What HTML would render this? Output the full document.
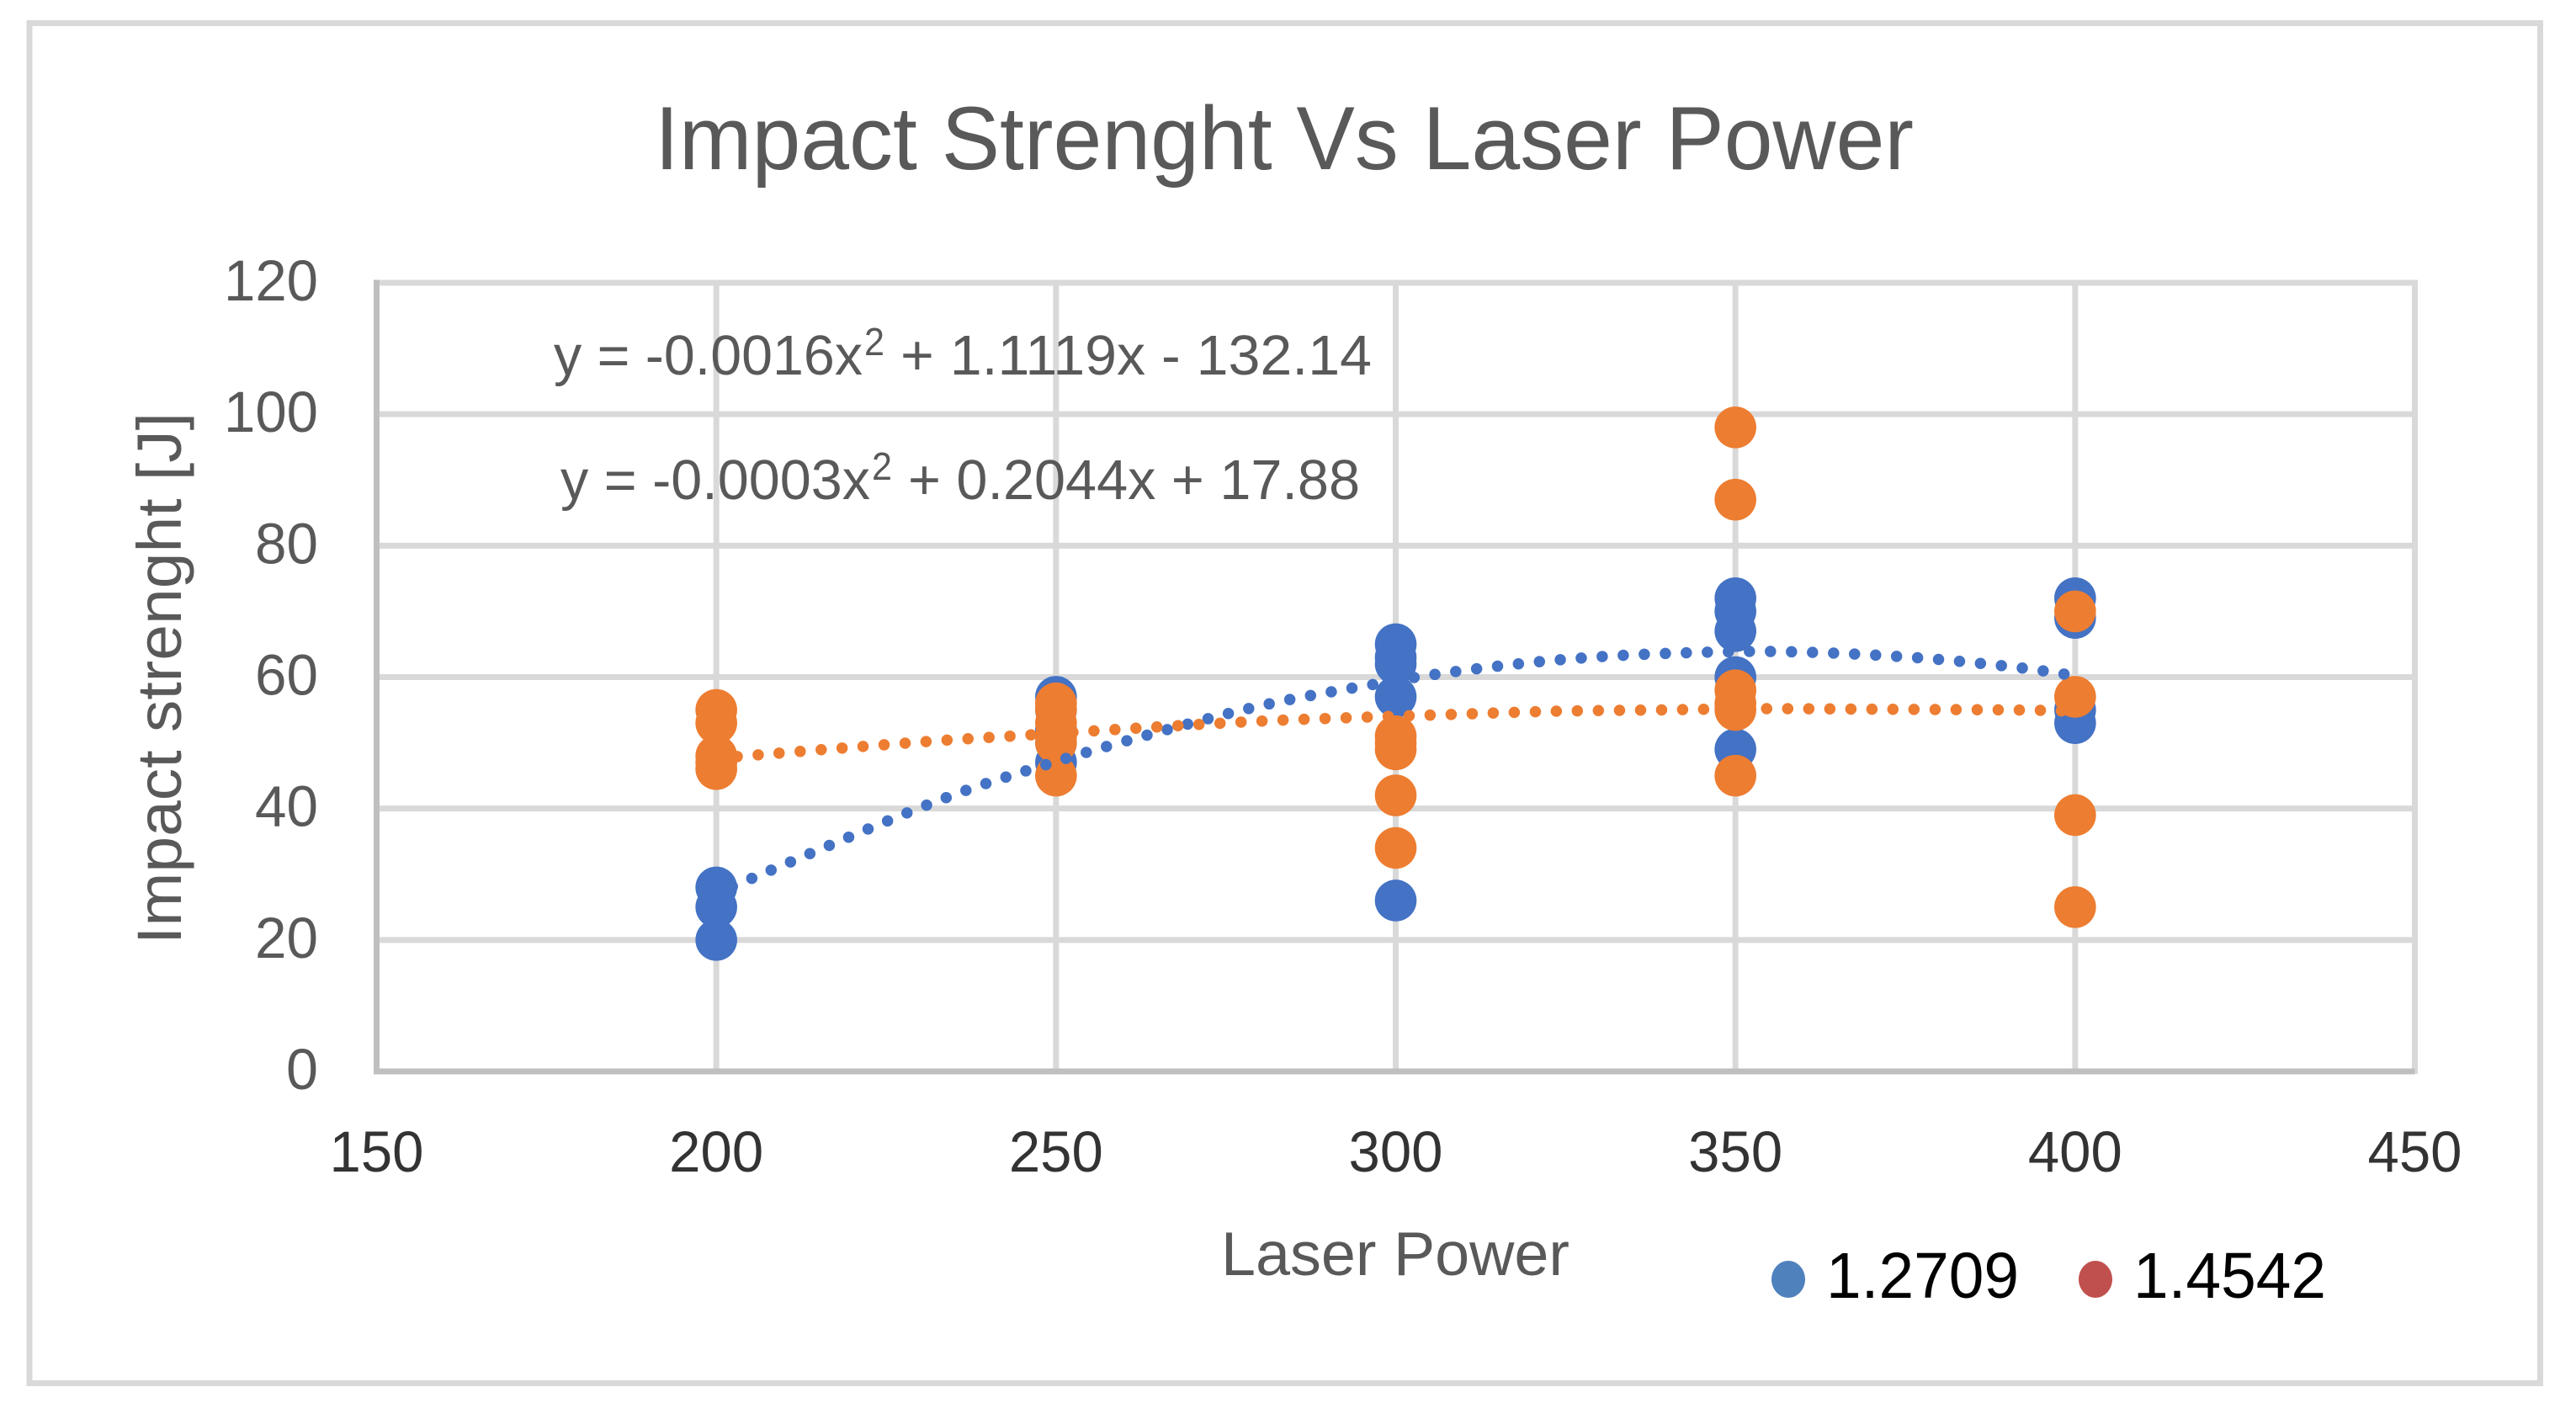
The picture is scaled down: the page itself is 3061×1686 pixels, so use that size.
<!DOCTYPE html>
<html lang="en">
<head>
<meta charset="utf-8">
<title>Impact Strenght Vs Laser Power</title>
<style>
  html, body { margin: 0; padding: 0; background: #ffffff; }
  svg { display: block; }
  text { font-family: "Liberation Sans", sans-serif; }
</style>
</head>
<body>
<svg id="chart" xmlns="http://www.w3.org/2000/svg" width="3061" height="1686" viewBox="0 0 3061 1686">
  <rect x="0" y="0" width="3061" height="1686" fill="#ffffff"/>
  <rect x="35" y="27.5" width="2983.5" height="1616" fill="none" stroke="#d9d9d9" stroke-width="7"/>
  <g id="grid"></g>
  <g id="markers"></g>
  <g id="trends"></g>
  <g id="ticks"></g>

  <text x="778" y="201" font-size="107" fill="#595959" textLength="1496" lengthAdjust="spacingAndGlyphs">Impact Strenght Vs Laser Power</text>
  <text transform="translate(215,1122) rotate(-90)" x="0" y="0" font-size="74" fill="#595959" textLength="632" lengthAdjust="spacingAndGlyphs">Impact strenght [J]</text>
  <text x="1451" y="1515" font-size="73" fill="#595959" textLength="414" lengthAdjust="spacingAndGlyphs">Laser Power</text>

  <g fill="#595959">
    <text x="658" y="445" font-size="67" textLength="367" lengthAdjust="spacingAndGlyphs">y = -0.0016x</text>
    <text x="1027" y="422" font-size="46" textLength="24" lengthAdjust="spacingAndGlyphs">2</text>
    <text x="1070" y="445" font-size="67" textLength="560" lengthAdjust="spacingAndGlyphs">+ 1.1119x - 132.14</text>
  </g>
  <g fill="#595959">
    <text x="666" y="593" font-size="67" textLength="368" lengthAdjust="spacingAndGlyphs">y = -0.0003x</text>
    <text x="1036" y="570" font-size="46" textLength="24" lengthAdjust="spacingAndGlyphs">2</text>
    <text x="1079" y="593" font-size="67" textLength="537" lengthAdjust="spacingAndGlyphs">+ 0.2044x + 17.88</text>
  </g>

  <g>
    <g>
      <ellipse cx="2125" cy="1520" rx="20" ry="22" fill="#4f81bd"/>
      <text x="2170" y="1542" font-size="77" fill="#000000" textLength="229" lengthAdjust="spacingAndGlyphs">1.2709</text>
    </g>
    <g>
      <ellipse cx="2490" cy="1520" rx="20" ry="22" fill="#c0504d"/>
      <text x="2535" y="1542" font-size="77" fill="#000000" textLength="229" lengthAdjust="spacingAndGlyphs">1.4542</text>
    </g>
  </g>
</svg>
<script>
// Axis tick labels
const xTicks = [150, 200, 250, 300, 350, 400, 450];
const yTicks = [0, 20, 40, 60, 80, 100, 120];

// Series 1.2709 (blue) scatter points
const blueX = [200, 200, 200, 250, 250, 250, 250, 250, 300, 300, 300, 300, 300, 350, 350, 350, 350, 350, 400, 400, 400, 400];
const blueY = [28, 25, 20, 57, 55, 52, 50, 47, 65, 63, 62, 57, 26, 72, 70, 67, 60, 49, 72, 69, 55, 53];

// Series 1.4542 (orange) scatter points
const orangeX = [200, 200, 200, 200, 200, 250, 250, 250, 250, 250, 250, 300, 300, 300, 300, 300, 350, 350, 350, 350, 350, 350, 400, 400, 400, 400];
const orangeY = [55, 53, 48, 47, 46, 56, 55, 53, 51, 50, 45, 51, 50, 49, 42, 34, 98, 87, 58, 56, 55, 45, 70, 57, 39, 25];

// Trendlines
const blueTrendX = [200, 203.2, 231.4, 248.9, 266.7, 281.7, 296.8, 305.7, 317.9, 330, 342.7, 355.2, 367.6, 379.8, 392, 400];
const blueTrendY = [27.3, 28.5, 40.7, 46.8, 52.1, 56, 58.9, 60.4, 62, 63.1, 63.7, 63.9, 63.5, 62.7, 61.4, 60.2];
const orangeTrendX = [200, 203, 218.5, 233.8, 246.2, 261.5, 280, 295.4, 307.7, 323, 338.6, 354, 372.8, 391.3, 400];
const orangeTrendY = [47.6, 47.9, 49.2, 50.4, 51.2, 52.2, 53.3, 53.9, 54.3, 54.8, 55, 55.2, 55.1, 55, 54.8];

// Axis functions
const xDomain = [150, 450];
const yDomain = [0, 120];
const plotLeft = 447.5, plotRight = 2869.5, plotTop = 336, plotBottom = 1273;
function xScale(v) { return plotLeft + (v - xDomain[0]) / (xDomain[1] - xDomain[0]) * (plotRight - plotLeft); }
function yScale(v) { return plotBottom - (v - yDomain[0]) / (yDomain[1] - yDomain[0]) * (plotBottom - plotTop); }

const NS = 'http://www.w3.org/2000/svg';
function make(tag, parent, attrs) {
  const el = document.createElementNS(NS, tag);
  for (const k in attrs) el.setAttribute(k, attrs[k]);
  parent.appendChild(el);
  return el;
}

const grid = document.getElementById('grid');
const ticks = document.getElementById('ticks');
const markers = document.getElementById('markers');
const trends = document.getElementById('trends');

// Horizontal gridlines and y tick labels
yTicks.forEach(function (t) {
  if (t !== yDomain[0]) {
    const line = make('line', grid, { x1: plotLeft, x2: plotRight + 3, y1: yScale(t), y2: yScale(t), stroke: '#d9d9d9', 'stroke-width': 7 });
    
    
  }
  const width = String(t).length === 1 ? 38 : (String(t).length === 2 ? 75 : 112);
  const label = make('text', ticks, { x: 378 - width, y: yScale(t) + 21, 'font-size': 69, fill: '#595959', textLength: width, lengthAdjust: 'spacingAndGlyphs' });
  label.textContent = t;
  
  
});

// Vertical gridlines and x tick labels
xTicks.forEach(function (t) {
  if (t !== xDomain[0]) {
    const line = make('line', grid, { x1: xScale(t), x2: xScale(t), y1: plotTop - 3.5, y2: plotBottom + 3, stroke: '#d9d9d9', 'stroke-width': 7 });
    
    
  }
  const label = make('text', ticks, { x: xScale(t) - 56, y: 1392, 'font-size': 69, fill: '#333333', textLength: 112, lengthAdjust: 'spacingAndGlyphs' });
  label.textContent = t;
  
  
});

// Axis lines
const yAxisLine = make('line', grid, { x1: plotLeft, x2: plotLeft, y1: plotTop - 3.5, y2: plotBottom + 3.5, stroke: '#bfbfbf', 'stroke-width': 7 });


const xAxisLine = make('line', grid, { x1: plotLeft, x2: plotRight, y1: plotBottom, y2: plotBottom, stroke: '#bfbfbf', 'stroke-width': 7 });



// Scatter markers
blueX.forEach(function (x, i) {
  const c = make('circle', markers, { cx: xScale(x), cy: yScale(blueY[i]), r: 24.8, fill: '#4472c4' });
  
  
});
orangeX.forEach(function (x, i) {
  const c = make('circle', markers, { cx: xScale(x), cy: yScale(orangeY[i]), r: 24.8, fill: '#ed7d31' });
  
  
});

// Smooth path through the trend values
function smoothPath(xs, ys) {
  const p = xs.map(function (x, i) { return [xScale(x), yScale(ys[i])]; });
  let d = 'M' + p[0][0] + ' ' + p[0][1];
  for (let i = 0; i < p.length - 1; i++) {
    const p0 = p[Math.max(i - 1, 0)], p1 = p[i], p2 = p[i + 1], p3 = p[Math.min(i + 2, p.length - 1)];
    d += ' C' + (p1[0] + (p2[0] - p0[0]) / 6) + ' ' + (p1[1] + (p2[1] - p0[1]) / 6) + ' ' +
         (p2[0] - (p3[0] - p1[0]) / 6) + ' ' + (p2[1] - (p3[1] - p1[1]) / 6) + ' ' + p2[0] + ' ' + p2[1];
  }
  return d;
}

const blueTrend = make('path', trends, { d: smoothPath(blueTrendX, blueTrendY), fill: 'none', stroke: '#4472c4', 'stroke-width': 13.5, 'stroke-linecap': 'round', 'stroke-dasharray': '0 25' });


const orangeTrend = make('path', trends, { d: smoothPath(orangeTrendX, orangeTrendY), fill: 'none', stroke: '#ed7d31', 'stroke-width': 13.5, 'stroke-linecap': 'round', 'stroke-dasharray': '0 25' });


</script>
</body>
</html>
